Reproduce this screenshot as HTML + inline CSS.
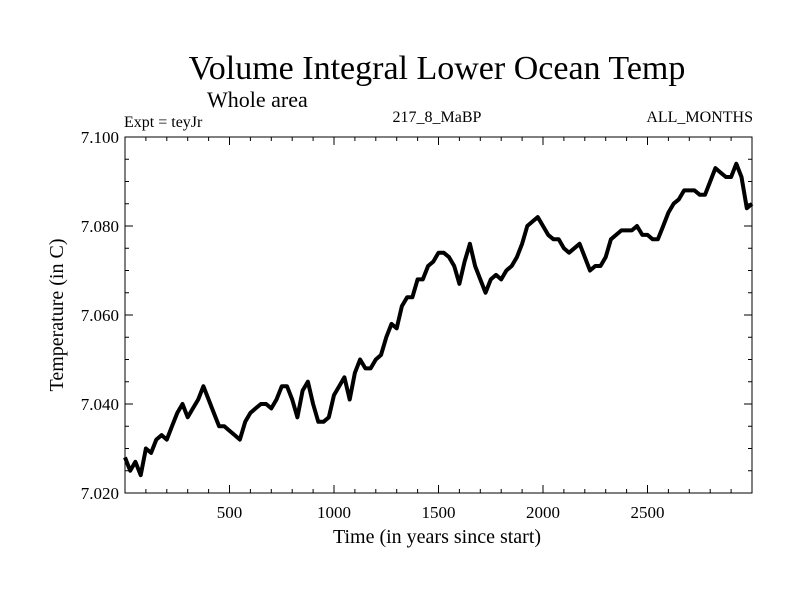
<!DOCTYPE html>
<html><head><meta charset="utf-8">
<style>
body{margin:0;background:#fff;}
svg{display:block;font-family:"Liberation Serif",serif;}
</style></head>
<body>
<svg id="chart" width="800" height="600" viewBox="0 0 800 600">
<rect width="800" height="600" fill="#fff"/>
<text x="437" y="79" font-size="34" text-anchor="middle">Volume Integral Lower Ocean Temp</text>
<text x="207" y="107" font-size="22">Whole area</text>
<text x="124" y="127" font-size="16">Expt = teyJr</text>
<text x="437" y="122" font-size="16" text-anchor="middle">217_8_MaBP</text>
<text x="753" y="122" font-size="16" text-anchor="end">ALL_MONTHS</text>
<text x="437" y="543" font-size="20" text-anchor="middle">Time (in years since start)</text>
<text transform="translate(63,315) rotate(-90)" font-size="20" text-anchor="middle">Temperature (in C)</text>
<g id="axes"></g>
<g id="series"></g>
</svg>
<script>
const years = [0,25,50,75,100,125,150,175,200,225,250,275,300,325,350,375,400,425,450,475,500,525,550,575,600,625,650,675,700,725,750,775,800,825,850,875,900,925,950,975,1000,1025,1050,1075,1100,1125,1150,1175,1200,1225,1250,1275,1300,1325,1350,1375,1400,1425,1450,1475,1500,1525,1550,1575,1600,1625,1650,1675,1700,1725,1750,1775,1800,1825,1850,1875,1900,1925,1950,1975,2000,2025,2050,2075,2100,2125,2150,2175,2200,2225,2250,2275,2300,2325,2350,2375,2400,2425,2450,2475,2500,2525,2550,2575,2600,2625,2650,2675,2700,2725,2750,2775,2800,2825,2850,2875,2900,2925,2950,2975,3000];
const temps = [7.028,7.025,7.027,7.024,7.030,7.029,7.032,7.033,7.032,7.035,7.038,7.040,7.037,7.039,7.041,7.044,7.041,7.038,7.035,7.035,7.034,7.033,7.032,7.036,7.038,7.039,7.040,7.040,7.039,7.041,7.044,7.044,7.041,7.037,7.043,7.045,7.040,7.036,7.036,7.037,7.042,7.044,7.046,7.041,7.047,7.050,7.048,7.048,7.050,7.051,7.055,7.058,7.057,7.062,7.064,7.064,7.068,7.068,7.071,7.072,7.074,7.074,7.073,7.071,7.067,7.072,7.076,7.071,7.068,7.065,7.068,7.069,7.068,7.070,7.071,7.073,7.076,7.080,7.081,7.082,7.080,7.078,7.077,7.077,7.075,7.074,7.075,7.076,7.073,7.070,7.071,7.071,7.073,7.077,7.078,7.079,7.079,7.079,7.080,7.078,7.078,7.077,7.077,7.080,7.083,7.085,7.086,7.088,7.088,7.088,7.087,7.087,7.090,7.093,7.092,7.091,7.091,7.094,7.091,7.084,7.085];
const xTickValues = [500,1000,1500,2000,2500];
const yTickValues = [7.020,7.040,7.060,7.080,7.100];
const yTickLabels = ["7.020","7.040","7.060","7.080","7.100"];

const NS="http://www.w3.org/2000/svg";
const L=125,R=752,T=137,B=493;
const xMin=0,xMax=3000,yMin=7.020,yMax=7.100;
function xs(v){return L+(v-xMin)/(xMax-xMin)*(R-L);}
function ys(v){return B-(v-yMin)/(yMax-yMin)*(B-T);}
function mk(tag,attrs,parent){const e=document.createElementNS(NS,tag);for(const k in attrs)e.setAttribute(k,attrs[k]);parent.appendChild(e);return e;}
const axes=document.getElementById('axes');
const frame=mk('rect',{x:L,y:T,width:R-L,height:B-T,fill:'none',stroke:'#000','stroke-width':1},axes);


for(let v=100;v<xMax;v+=100){
  const major=v%500===0, len=major?8:4, x=xs(v);
  const t1=mk('line',{x1:x,x2:x,y1:B,y2:B-len,stroke:'#000'},axes);
  
  
  const t2=mk('line',{x1:x,x2:x,y1:T,y2:T+len,stroke:'#000'},axes);
  
  
}
xTickValues.forEach(v=>{
  const t=mk('text',{x:xs(v),y:B+25,'font-size':17,'text-anchor':'middle'},axes);
  t.textContent=v;
  
  
});
for(let i=0;i<=16;i++){
  const v=yMin+i*0.005, major=i%4===0, len=major?8:4, y=ys(v);
  const t1=mk('line',{x1:L,x2:L+len,y1:y,y2:y,stroke:'#000'},axes);
  
  
  const t2=mk('line',{x1:R,x2:R-len,y1:y,y2:y,stroke:'#000'},axes);
  
  
}
yTickValues.forEach((v,i)=>{
  const t=mk('text',{x:L-6,y:ys(v)+6,'font-size':17,'text-anchor':'end'},axes);
  t.textContent=yTickLabels[i];
  
  
});
const series=document.getElementById('series');
const d=years.map((yr,i)=>(i?'L':'M')+xs(yr).toFixed(1)+','+ys(temps[i]).toFixed(1)).join(' ');
const p=mk('path',{d:d,fill:'none',stroke:'#000','stroke-width':4,'stroke-linejoin':'round'},series);


</script>
</body></html>
